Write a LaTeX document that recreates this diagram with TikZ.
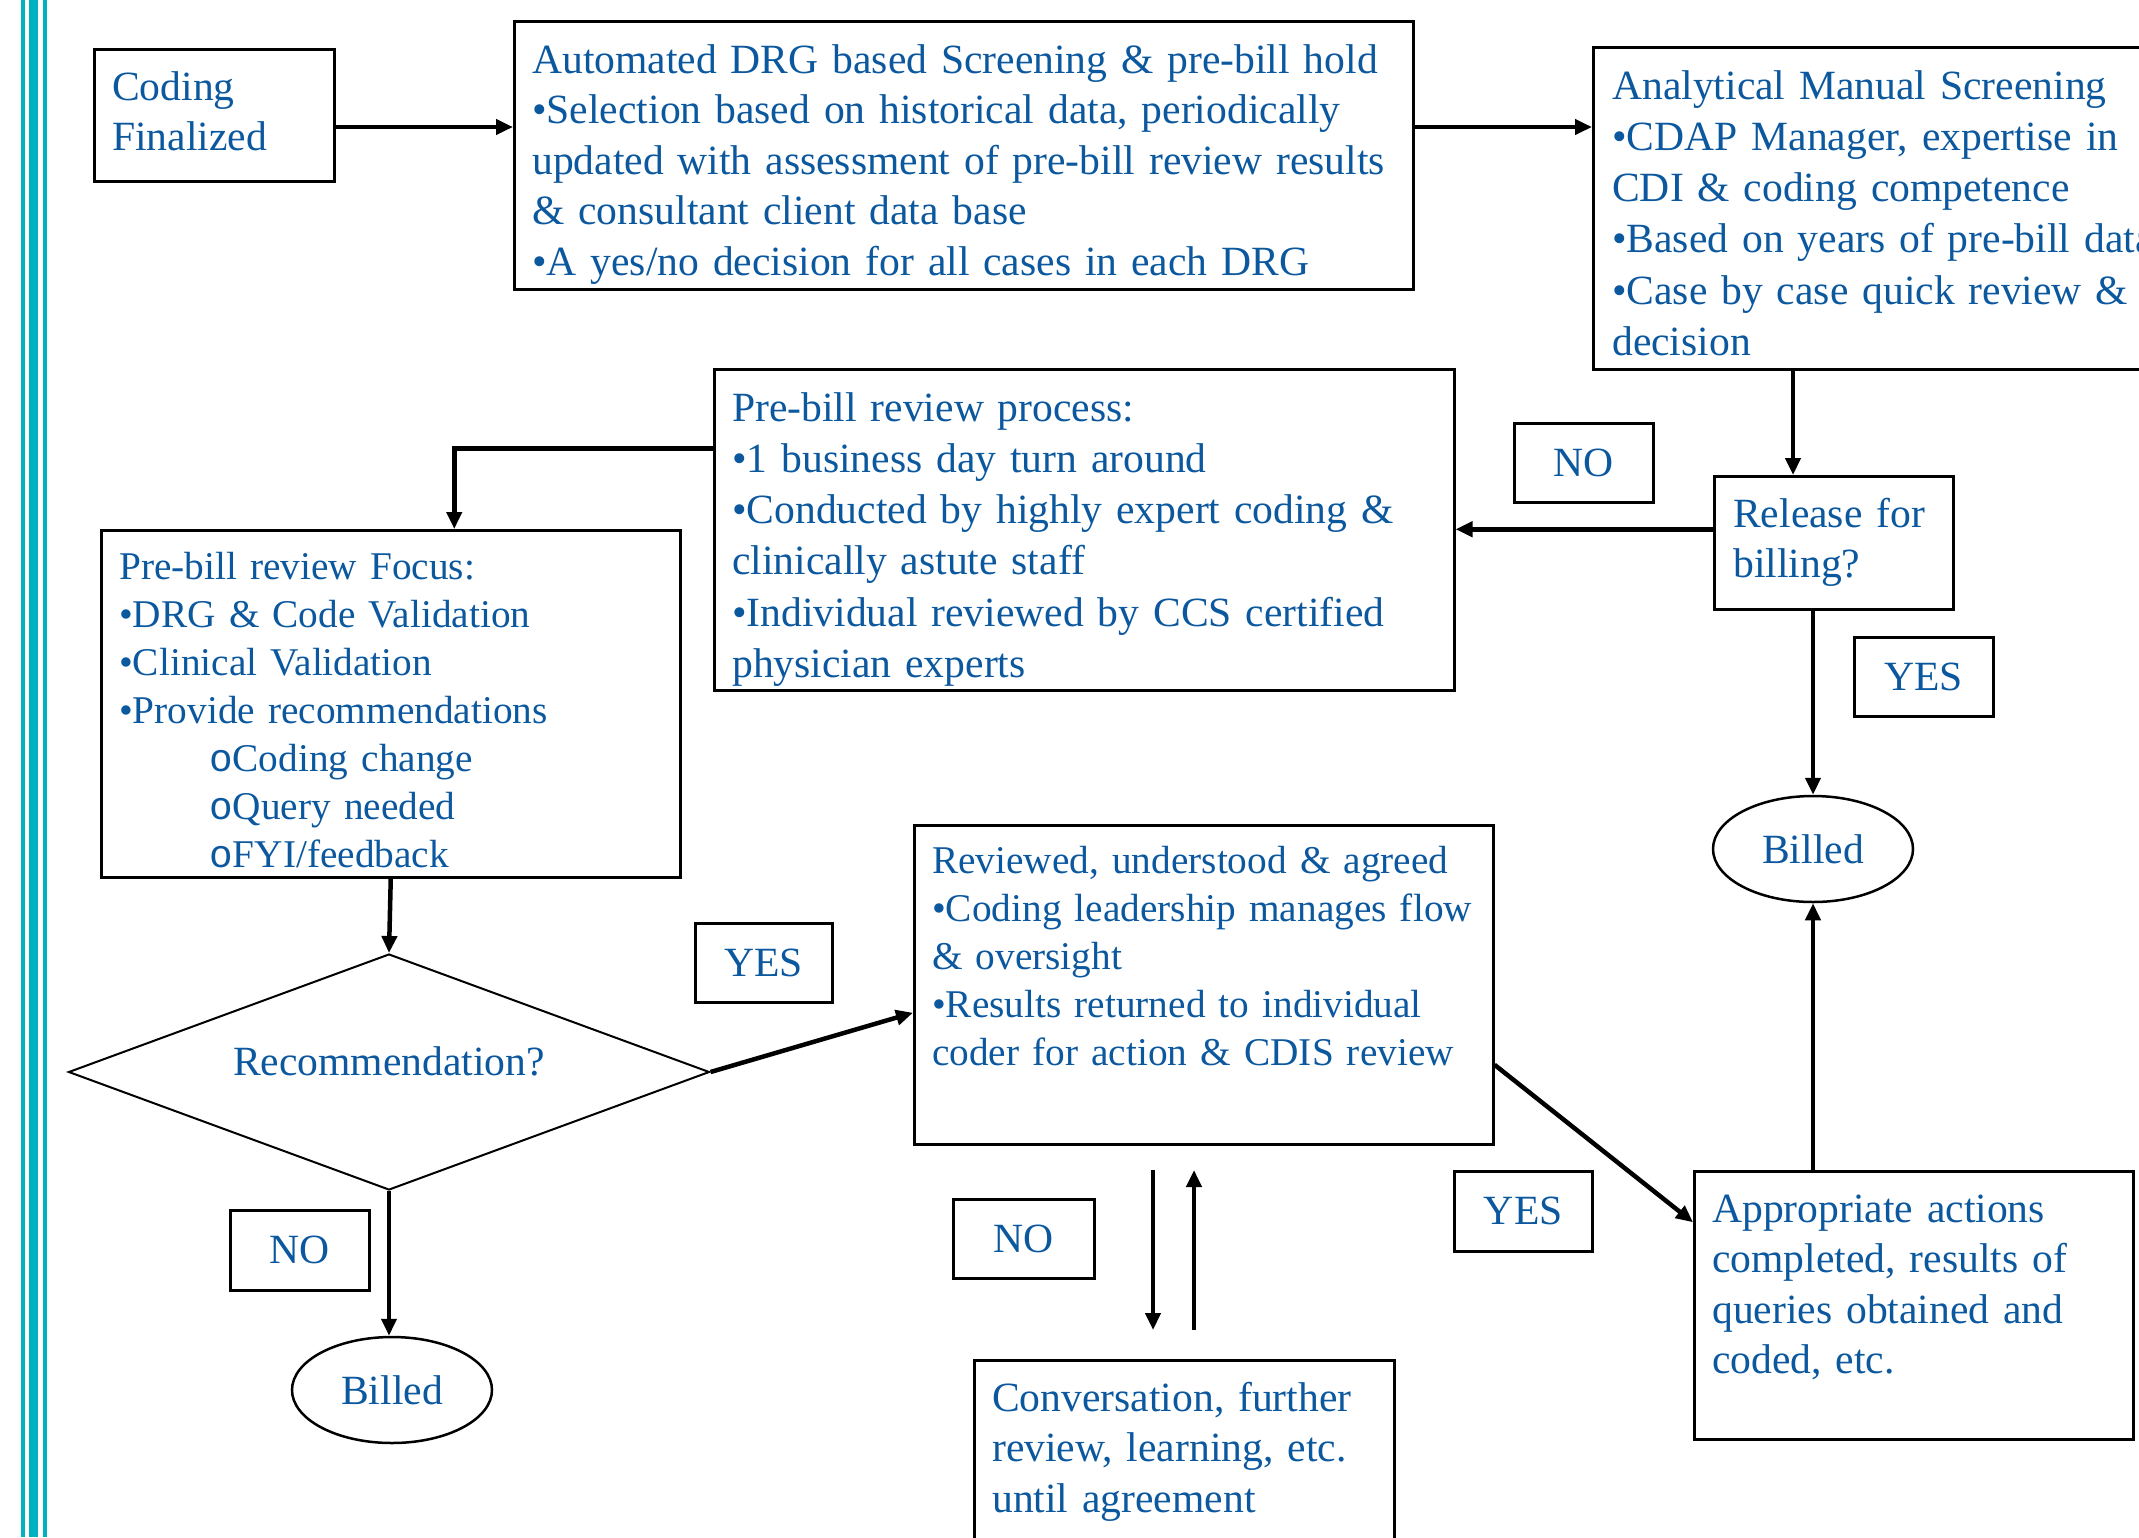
\documentclass[tikz,border=0pt]{standalone}
\usepackage{fontspec}
\setmainfont{Liberation Serif}
\newfontfamily\monofnt{Liberation Mono}
\usetikzlibrary{arrows.meta,shapes.geometric}
\definecolor{tblue}{RGB}{12,88,158}
\definecolor{bartl}{RGB}{0,178,192}
\newcommand{\bigtxt}{\fontsize{41.6}{50.5}\selectfont}
\newcommand{\bigtxtB}{\fontsize{41.6}{51.3}\selectfont}
\newcommand{\smalltxt}{\fontsize{39.3}{48}\selectfont}
\begin{document}
\begin{tikzpicture}[x=1pt,y=-1pt,
  box/.style={draw=black, line width=2.5pt, inner sep=0pt, anchor=north west},
  lab/.style={box, text=tblue, font=\bigtxt},
  txt/.style={anchor=base west, align=left, inner sep=0pt, text width=1200pt, text=tblue, font=\bigtxt},
  txtb/.style={txt, font=\bigtxtB},
  txts/.style={txt, font=\smalltxt},
  oval/.style={draw=black, line width=2.5pt, ellipse, inner sep=0pt, minimum width=200pt, minimum height=106pt, text=tblue, font=\bigtxt},
  arr/.style={line width=4.5pt, -{Triangle[length=17pt,width=15pt]}}]
\useasboundingbox (0,0) rectangle (2139,1537);
\clip (0,0) rectangle (2139,1537);
% left bars
\fill[bartl] (21,0) rectangle (25,1537);
\fill[bartl] (29,0) rectangle (38,1537);
\fill[bartl] (43,0) rectangle (47,1537);

% boxes
\node[box, minimum width=240pt, minimum height=132pt] (cf) at (93,48) {};
\node[box, minimum width=899pt, minimum height=268pt] (auto) at (513,20) {};
\node[box, minimum width=600pt, minimum height=322pt] (ana) at (1592,46) {};
\node[box, minimum width=740pt, minimum height=321pt] (proc) at (713,368) {};
\node[box, minimum width=239pt, minimum height=133pt] (rel) at (1713,475) {};
\node[box, minimum width=579pt, minimum height=347pt] (focus) at (100,529) {};
\node[box, minimum width=579pt, minimum height=319pt] (rev) at (913,824) {};
\node[box, minimum width=420pt, minimum height=220pt] (conv) at (973,1359) {};
\node[box, minimum width=439pt, minimum height=268pt] (app) at (1693,1170) {};

% labels
\node[lab, minimum width=139pt, minimum height=79pt] (no1) at (1513,422) {NO};
\node[lab, minimum width=139pt, minimum height=79pt] (yes1) at (1853,636) {YES};
\node[lab, minimum width=137pt, minimum height=79pt] (yes2) at (694,922) {YES};
\node[lab, minimum width=139pt, minimum height=80pt] (no3) at (229,1209) {NO};
\node[lab, minimum width=141pt, minimum height=79pt] (no2) at (952,1198) {NO};
\node[lab, minimum width=138pt, minimum height=80pt] (yes3) at (1453,1170) {YES};

% ellipses and diamond
\node[oval] (billR) at (1813,849) {Billed};
\node[oval] (billL) at (392,1390) {Billed};
\node[draw=black, line width=2pt, diamond, shape aspect=2.7, minimum width=641pt, minimum height=236pt, inner sep=0pt] (dia) at (389,1072) {};
\node[text=tblue, inner sep=0pt, font=\bigtxt] (trec) at (389,1061) {Recommendation?};

% texts
\node[txt] (tcf) at (112,100) {Coding\\Finalized};
\node[txt] (tauto) at (532,73) {Automated DRG based Screening \& pre-bill hold\\
\textbullet Selection based on historical data, periodically\\
updated with assessment of pre-bill review results\\
\& consultant client data base\\
\textbullet A yes/no decision for all cases in each DRG};
\node[txtb] (tana) at (1612,99) {Analytical Manual Screening\\
\textbullet CDAP Manager, expertise in\\
CDI \& coding competence\\
\textbullet Based on years of pre-bill data\\
\textbullet Case by case quick review \&\\
decision};
\node[txtb] (tproc) at (732,421) {Pre-bill review process:\\
\textbullet 1 business day turn around\\
\textbullet Conducted by highly expert coding \&\\
clinically astute staff\\
\textbullet Individual reviewed by CCS certified\\
physician experts};
\node[txt] (trel) at (1733,527) {Release for\\billing?};
\node[txts] (tfocus) at (119,579) {Pre-bill review Focus:\\
\textbullet DRG \& Code Validation\\
\textbullet Clinical Validation\\
\textbullet Provide recommendations\\
\hspace*{90pt}{\monofnt o}Coding change\\
\hspace*{90pt}{\monofnt o}Query needed\\
\hspace*{90pt}{\monofnt o}FYI/feedback};
\node[txts] (trev) at (932,873) {Reviewed, understood \& agreed\\
\textbullet Coding leadership manages flow\\
\& oversight\\
\textbullet Results returned to individual\\
coder for action \& CDIS review};
\node[txt] (tconv) at (992,1411) {Conversation, further\\review, learning, etc.\\until agreement};
\node[txt] (tapp) at (1712,1222) {Appropriate actions\\completed, results of\\queries obtained and\\coded, etc.};

% helper coordinates
\coordinate (yA) at (0,127);
\coordinate (xA) at (1793,0);
\coordinate (d1s) at (1153,1170);
\coordinate (d1e) at (1153,1330);
\coordinate (u1s) at (1194,1330);
\coordinate (u1e) at (1194,1170);

% connectors
\draw[arr] (cf.east |- yA) -- (auto.west |- yA);
\draw[arr] (auto.east |- yA) -- (ana.west |- yA);
\draw[arr] (xA |- ana.south) -- (xA |- rel.north);
\draw[arr] ([yshift=13.5pt]rel.west) -- ([yshift=13.5pt]rel.west -| proc.east);
\draw[arr] (billR.north |- rel.south) -- (billR.north);
\draw[arr] (billR.south |- app.north) -- (billR.south);
\draw[arr] ([yshift=81.5pt]proc.west) -| ([xshift=63.5pt]focus.north);
\draw[arr] (focus.south) -- (dia.north);
\draw[arr] (dia.south) -- (dia.south |- billL.north);
\draw[arr] (dia.east) -- ([yshift=-28pt]rev.west);
\draw[arr] ([yshift=-80pt]rev.east) -- ([yshift=83pt]app.west);
\draw[arr] (d1s) -- (d1e);
\draw[arr] (u1s) -- (u1e);
\end{tikzpicture}
\end{document}
